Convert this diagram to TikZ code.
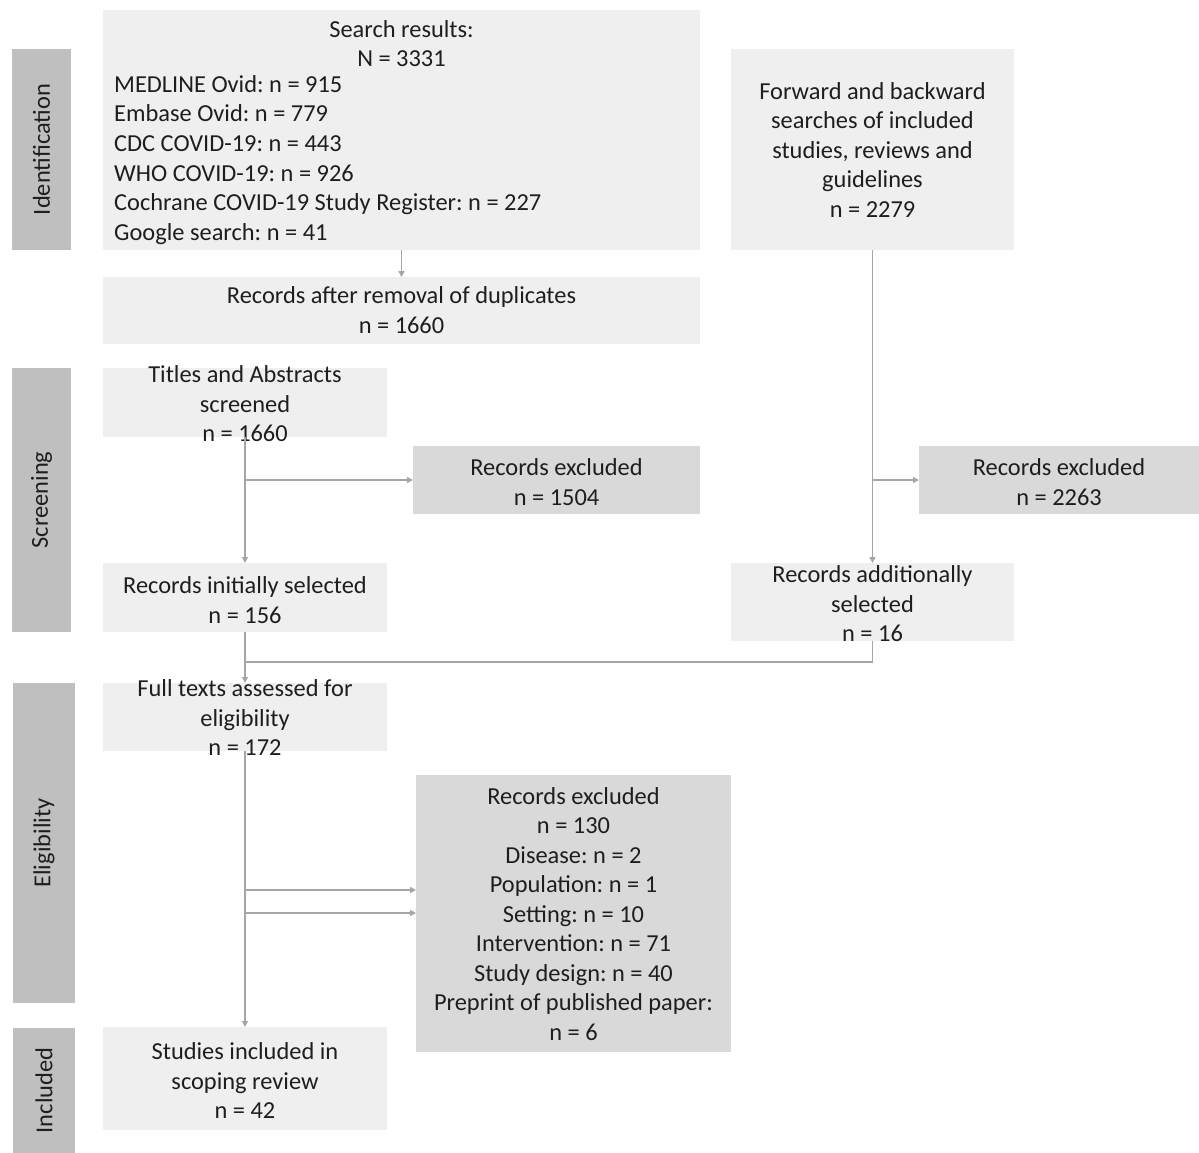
\documentclass[tikz,border=0pt]{standalone}
\usepackage{fontspec}
\setmainfont{Carlito}
\usetikzlibrary{arrows.meta}
\definecolor{sidegray}{HTML}{BFBFBF}
\definecolor{lightbox}{HTML}{EFEFEF}
\definecolor{darkbox}{HTML}{D9D9D9}
\definecolor{linegray}{HTML}{A6A6A6}
\definecolor{txt}{HTML}{1E1E1E}
\tikzset{
  boxbase/.style={inner sep=0pt, outer sep=0pt, draw=none},
  lbox/.style={boxbase, fill=lightbox},
  dbox/.style={boxbase, fill=darkbox},
  sbox/.style={boxbase, fill=sidegray},
  tx/.style={inner sep=0pt, text=txt, align=center, font=\fontsize{24.4}{29.5}\selectfont},
  txl/.style={inner sep=0pt, text=txt, align=left, font=\fontsize{24.4}{29.6}\selectfont},
  sidetx/.style={inner sep=0pt, text=txt, rotate=90, font=\fontsize{24.4}{26}\selectfont},
  conn/.style={draw=linegray, line width=1.4pt},
  arr/.style={conn, -{Triangle[width=6pt,length=6pt]}},
}
\begin{document}
\frenchspacing
\begin{tikzpicture}[x=1pt,y=-1pt]
\useasboundingbox[fill=white] (0,0) rectangle (1199,1153);
% side labels
\node[sbox, minimum width=59, minimum height=201] (sid) at (41.5,149.5) {};
\node[sidetx] (sidt) at (sid.center) {Identification};
\node[sbox, minimum width=59, minimum height=264] (ssc) at (41.5,500) {};
\node[sidetx] (ssct) at (ssc.center) {Screening};
\node[sbox, minimum width=62, minimum height=320] (sel) at (44,843) {};
\node[sidetx] (selt) at (sel.center) {Eligibility};
\node[sbox, minimum width=62, minimum height=125] (sin) at (44,1090.5) {};
\node[sidetx] (sint) at (sin.center) {Included};
% boxes
\node[lbox, minimum width=597, minimum height=240] (sr) at (401.5,130) {};
\node[tx] (srt) at (401.5,43.5) {Search results:\\N = 3331};
\node[txl, anchor=west] (srl) at (114,160) {MEDLINE Ovid: n = 915\\Embase Ovid: n = 779\\CDC COVID-19: n = 443\\WHO COVID-19: n = 926\\Cochrane COVID-19 Study Register: n = 227\\Google search: n = 41};
\node[lbox, minimum width=597, minimum height=67] (rm) at (401.5,310.5) {};
\node[tx] (rmt) at (401.5,310) {Records after removal of duplicates\\n = 1660};
\node[lbox, minimum width=284, minimum height=69] (ti) at (245,402.5) {};
\node[tx] (tit) at (245,404) {Titles and Abstracts\\screened\\n = 1660};
\node[dbox, minimum width=287, minimum height=68] (ex1) at (556.5,480) {};
\node[tx] (ex1t) at (556.5,482) {Records excluded\\n = 1504};
\node[lbox, minimum width=284, minimum height=69] (in) at (245,597.5) {};
\node[tx] (int) at (245,600) {Records initially selected\\n = 156};
\node[lbox, minimum width=284, minimum height=68] (fu) at (245,717) {};
\node[tx] (fut) at (245,718) {Full texts assessed for\\eligibility\\n = 172};
\node[dbox, minimum width=315, minimum height=277] (ex3) at (573.5,913.5) {};
\node[tx] (ex3t) at (573.5,914) {Records excluded\\n = 130\\Disease: n = 2\\Population: n = 1\\Setting: n = 10\\Intervention: n = 71\\Study design: n = 40\\Preprint of published paper:\\n = 6};
\node[lbox, minimum width=284, minimum height=103] (inc) at (245,1078.5) {};
\node[tx] (inct) at (245,1081) {Studies included in\\scoping review\\n = 42};
\node[lbox, minimum width=283, minimum height=201] (fw) at (872.5,149.5) {};
\node[tx] (fwt) at (872.5,150) {Forward and backward\\searches of included\\studies, reviews and\\guidelines\\n = 2279};
\node[dbox, minimum width=280, minimum height=68] (ex2) at (1059,480) {};
\node[tx] (ex2t) at (1059,482) {Records excluded\\n = 2263};
\node[lbox, minimum width=283, minimum height=78] (ad) at (872.5,602) {};
\node[tx] (adt) at (872.5,604) {Records additionally\\selected\\n = 16};
% connectors
\draw[arr] (sr.south) -- (rm.north);
\draw[arr] (ti.south) -- (in.north);
\draw[arr] (ti.south |- ex1.west) -- (ex1.west);
\draw[arr] (fw.south) -- (ad.north);
\draw[arr] (fw.south |- ex2.west) -- (ex2.west);
\draw[arr] (in.south) -- (fu.north);
\coordinate (j) at (245,662);
\draw[conn] (ad.south) |- (j);
\draw[arr] (fu.south) -- (inc.north);
\coordinate (b1) at (245,890);
\coordinate (b2) at (245,913);
\draw[arr] (b1) -- (ex3.west |- b1);
\draw[arr] (b2) -- (ex3.west |- b2);
\end{tikzpicture}
\end{document}
